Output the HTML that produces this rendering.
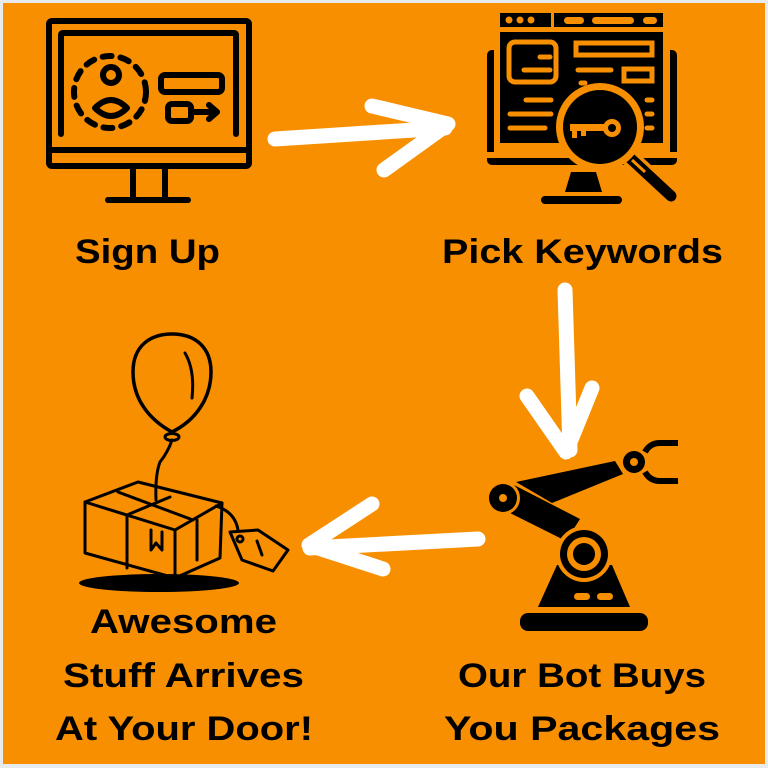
<!DOCTYPE html>
<html><head><meta charset="utf-8"><style>
html,body{margin:0;padding:0;background:#e8ebee;}
svg{display:block}
text{font-family:"Liberation Sans",sans-serif;font-weight:bold;fill:#000;}
</style></head><body>
<svg width="768" height="768" viewBox="0 0 768 768" xmlns="http://www.w3.org/2000/svg">
<rect x="0" y="0" width="768" height="768" fill="#e8ebee"/>
<rect x="3" y="3" width="762" height="761" fill="#f78f00"/>

<!-- Icon 1: monitor sign-up -->
<g fill="none" stroke="#000" stroke-width="6" stroke-linecap="round" stroke-linejoin="round">
 <rect x="49" y="21" width="200" height="145" rx="3"/>
 <line x1="49" y1="150" x2="249" y2="150"/>
 <path d="M61 134 V35 Q61 33 63 33 H234 Q236 33 236 35 V134"/>
 <line x1="133" y1="167" x2="133" y2="199"/>
 <line x1="165" y1="167" x2="165" y2="199"/>
 <line x1="108" y1="200" x2="188" y2="200"/>
 <circle cx="110" cy="92" r="36" stroke-dasharray="9 9"/>
 <circle cx="111" cy="75" r="8"/>
 <path d="M95 108 Q111 92 127 108 Q111 124 95 108 Z"/>
 <rect x="161" y="75" width="61" height="17" rx="4"/>
 <rect x="168" y="104" width="23" height="17" rx="4"/>
 <line x1="191" y1="112" x2="216" y2="112"/>
 <path d="M209 105 L217 112 L209 119"/>
</g>

<!-- Icon 2: keyword monitor -->
<g>
 <rect x="500" y="13" width="163" height="14" fill="#000"/>
 <rect x="551" y="13" width="3" height="14" fill="#f78f00"/>
 <g fill="#f78f00"><circle cx="509" cy="20" r="3.5"/><circle cx="520" cy="20" r="3.5"/><circle cx="531" cy="20" r="3.5"/>
 <rect x="564" y="17" width="20" height="7" rx="3.5"/><rect x="592" y="17" width="42" height="7" rx="3.5"/><rect x="643" y="17" width="14" height="7" rx="3.5"/></g>
 <rect x="487" y="50" width="190" height="115" rx="5" fill="#000"/>
 <rect x="487" y="152" width="190" height="6" fill="#f78f00"/>
 <rect x="494" y="30" width="176" height="122" fill="#f78f00"/>
 <rect x="500" y="32" width="163" height="114" fill="#000"/>
 <g fill="none" stroke="#f78f00" stroke-width="5" stroke-linecap="round">
  <rect x="509" y="42" width="47" height="40" rx="6"/>
  <rect x="576" y="43" width="76" height="12"/>
  <rect x="624" y="69" width="28" height="12"/>
  <line x1="540" y1="57" x2="550" y2="57"/><line x1="524" y1="70" x2="550" y2="70"/>
  <line x1="578" y1="70" x2="611" y2="70"/><line x1="581" y1="83" x2="585" y2="83"/>
  <line x1="526" y1="100" x2="551" y2="100"/><line x1="510" y1="114" x2="551" y2="114"/><line x1="510" y1="128" x2="545" y2="128"/>
  <line x1="647" y1="100" x2="652" y2="100"/><line x1="647" y1="114" x2="652" y2="114"/><line x1="647" y1="128" x2="652" y2="128"/>
 </g>
 <rect x="500" y="143" width="163" height="3" fill="#f78f00"/>
 <path d="M571 172 H596 L602 192 H565 Z" fill="#000"/>
 <rect x="541" y="196" width="81" height="8" rx="4" fill="#000"/>
 <line x1="628" y1="156" x2="672" y2="197" stroke="#f78f00" stroke-width="18" stroke-linecap="round"/>
 <line x1="630" y1="158" x2="671" y2="196" stroke="#000" stroke-width="11" stroke-linecap="round"/>
 <line x1="632" y1="160" x2="645" y2="172" stroke="#f78f00" stroke-width="3"/>
 <circle cx="600" cy="127" r="44" fill="#f78f00"/>
 <circle cx="600" cy="127" r="37" fill="#000"/>
 <g fill="#f78f00"><circle cx="612" cy="128" r="9"/><rect x="570" y="124" width="38" height="7"/><rect x="572" y="128" width="5" height="10"/><rect x="581" y="128" width="5" height="8"/></g>
 <circle cx="612" cy="128" r="4" fill="#000"/>
</g>

<!-- Icon 3: robot arm -->
<g fill="#000">
 <rect x="520" y="613" width="128" height="18" rx="8"/>
 <path d="M557 565 H612 L630 607 H538 Z"/>
 <g fill="#f78f00"><rect x="574" y="593" width="16" height="7" rx="3.5"/><rect x="597" y="593" width="16" height="7" rx="3.5"/></g>
 <path d="M514 485 L580 519 L566 541 L508 512 Z"/>
 <path d="M516 482 L615 461 L623 474 L552 503 Z"/>
 <circle cx="584" cy="554" r="28" fill="#f78f00"/>
 <circle cx="584" cy="554" r="24"/>
 <circle cx="584" cy="554" r="17" fill="#f78f00"/>
 <circle cx="584" cy="554" r="11"/>
 <circle cx="503" cy="498" r="17" fill="#f78f00"/>
 <circle cx="503" cy="498" r="14"/>
 <circle cx="503" cy="498" r="4" fill="#f78f00"/>
 <circle cx="634" cy="462" r="11"/>
 <circle cx="634" cy="462" r="4" fill="#f78f00"/>
 <path d="M645 452 Q650 443 660 443 H678" fill="none" stroke="#000" stroke-width="6"/>
 <path d="M645 472 Q650 481 660 481 H678" fill="none" stroke="#000" stroke-width="6"/>
</g>

<!-- Icon 4: box with balloon -->
<g fill="none" stroke="#000" stroke-width="3" stroke-linecap="round" stroke-linejoin="round">
 <path d="M172 432 C150 420 133 400 133 372 C133 346 150 334 172 334 C196 334 211 348 211 372 C211 398 196 420 172 432 Z" stroke-width="3.5"/>
 <path d="M185 353 Q195 370 192 398"/>
 <ellipse cx="172" cy="437" rx="7" ry="3.5"/>
 <path d="M172 440 Q168 452 160 462 Q155 475 156 500"/>
 <path d="M85 502 L138 482 L222 503 L175 530 Z"/>
 <path d="M85 502 L85 553 L175 578 L220 558 L222 503"/>
 <path d="M175 530 L175 578"/>
 <path d="M118 492 L193 520"/>
 <path d="M170 497 L127 515 L127 568"/>
 <path d="M197 520 L197 560"/>
 <path d="M151 530 L151 550 L156 543 L162 550 L162 532"/>
 <path d="M216 506 Q235 512 238 530"/>
 <path d="M230 532 L258 530 L288 550 L273 571 L242 560 Z"/>
 <circle cx="240" cy="539" r="3"/>
 <line x1="257" y1="541" x2="262" y2="555"/>
</g>
<ellipse cx="159" cy="583" rx="80" ry="9" fill="#000"/>

<!-- White arrows -->
<g fill="none" stroke="#fff" stroke-width="15" stroke-linecap="round" stroke-linejoin="round">
 <path d="M275 139 L445 128"/>
 <path d="M372 106 L448 124 L384 170"/>
 <path d="M565 290 L570 450"/>
 <path d="M527 396 L566 452 L592 388"/>
 <path d="M478 539 L310 548"/>
 <path d="M372 504 L309 545 L383 569"/>
</g>

<!-- Labels -->
<g font-size="34">
 <text x="75" y="263" textLength="145" lengthAdjust="spacingAndGlyphs">Sign Up</text>
 <text x="442" y="263" textLength="281" lengthAdjust="spacingAndGlyphs">Pick Keywords</text>
 <text x="90" y="633" textLength="187" lengthAdjust="spacingAndGlyphs">Awesome</text>
 <text x="63" y="687" textLength="241" lengthAdjust="spacingAndGlyphs">Stuff Arrives</text>
 <text x="55" y="740" textLength="258" lengthAdjust="spacingAndGlyphs">At Your Door!</text>
 <text x="458" y="687" textLength="248" lengthAdjust="spacingAndGlyphs">Our Bot Buys</text>
 <text x="444" y="740" textLength="276" lengthAdjust="spacingAndGlyphs">You Packages</text>
</g>
</svg>
</body></html>
